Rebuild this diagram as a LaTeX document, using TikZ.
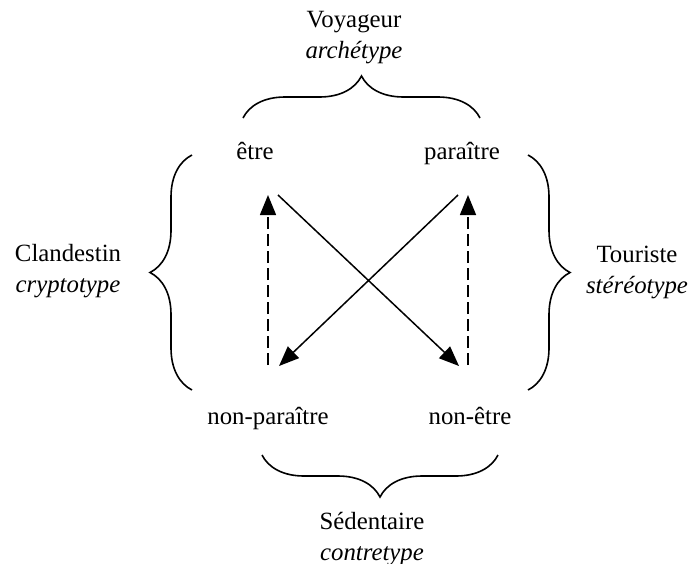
\documentclass[tikz,border=0pt]{standalone}
\usepackage{fontspec}
\setmainfont{Liberation Serif}
\usetikzlibrary{arrows.meta,decorations.pathreplacing}
\begin{document}
\begin{tikzpicture}[x=0.5pt, y=-0.5pt,
  every node/.style={font=\fontsize{12.4}{15.5}\selectfont, align=center},
  word/.style={anchor=base},
  brace/.style={line width=0.8pt, decorate, decoration={brace, amplitude=21pt}},
  arr/.style={line width=0.75pt, -{Triangle[length=10pt, width=8pt]}}]

\useasboundingbox (0,0) rectangle (690,563);

\node (voy) at (354, 38) {Voyageur\\ \textit{archétype}};
\node (cla) at (68, 271) {Clandestin\\ \textit{cryptotype}};
\node (tou) at (637, 272) {Touriste\\ \textit{stéréotype}};
\node (sed) at (372, 539) {Sédentaire\\ \textit{contretype}};

\node[word] (etre) at (255, 159) {être};
\node[word] (par) at (462, 159) {paraître};
\node[word] (npar) at (268, 424) {non-paraître};
\node[word] (netre) at (470, 424) {non-être};

\coordinate (a1) at (268, 195);
\coordinate (a2) at (268, 365);
\coordinate (b1) at (468, 195);
\coordinate (b2) at (468, 365);
\coordinate (c1) at (278, 195);
\coordinate (c2) at (459, 366);
\coordinate (d1) at (458, 195);
\coordinate (d2) at (279, 366);

\draw[arr, dash pattern=on 6pt off 2.5pt] (a2) -- (a1);
\draw[arr, dash pattern=on 6pt off 2.5pt] (b2) -- (b1);
\draw[arr] (c1) -- (c2);
\draw[arr] (d1) -- (d2);

\draw[brace] (243, 118) -- (480, 118);
\draw[brace] (498, 455) -- (262, 455);
\draw[brace] (192, 390) -- (192, 155);
\draw[brace] (528, 155) -- (528, 390);

\end{tikzpicture}
\end{document}
